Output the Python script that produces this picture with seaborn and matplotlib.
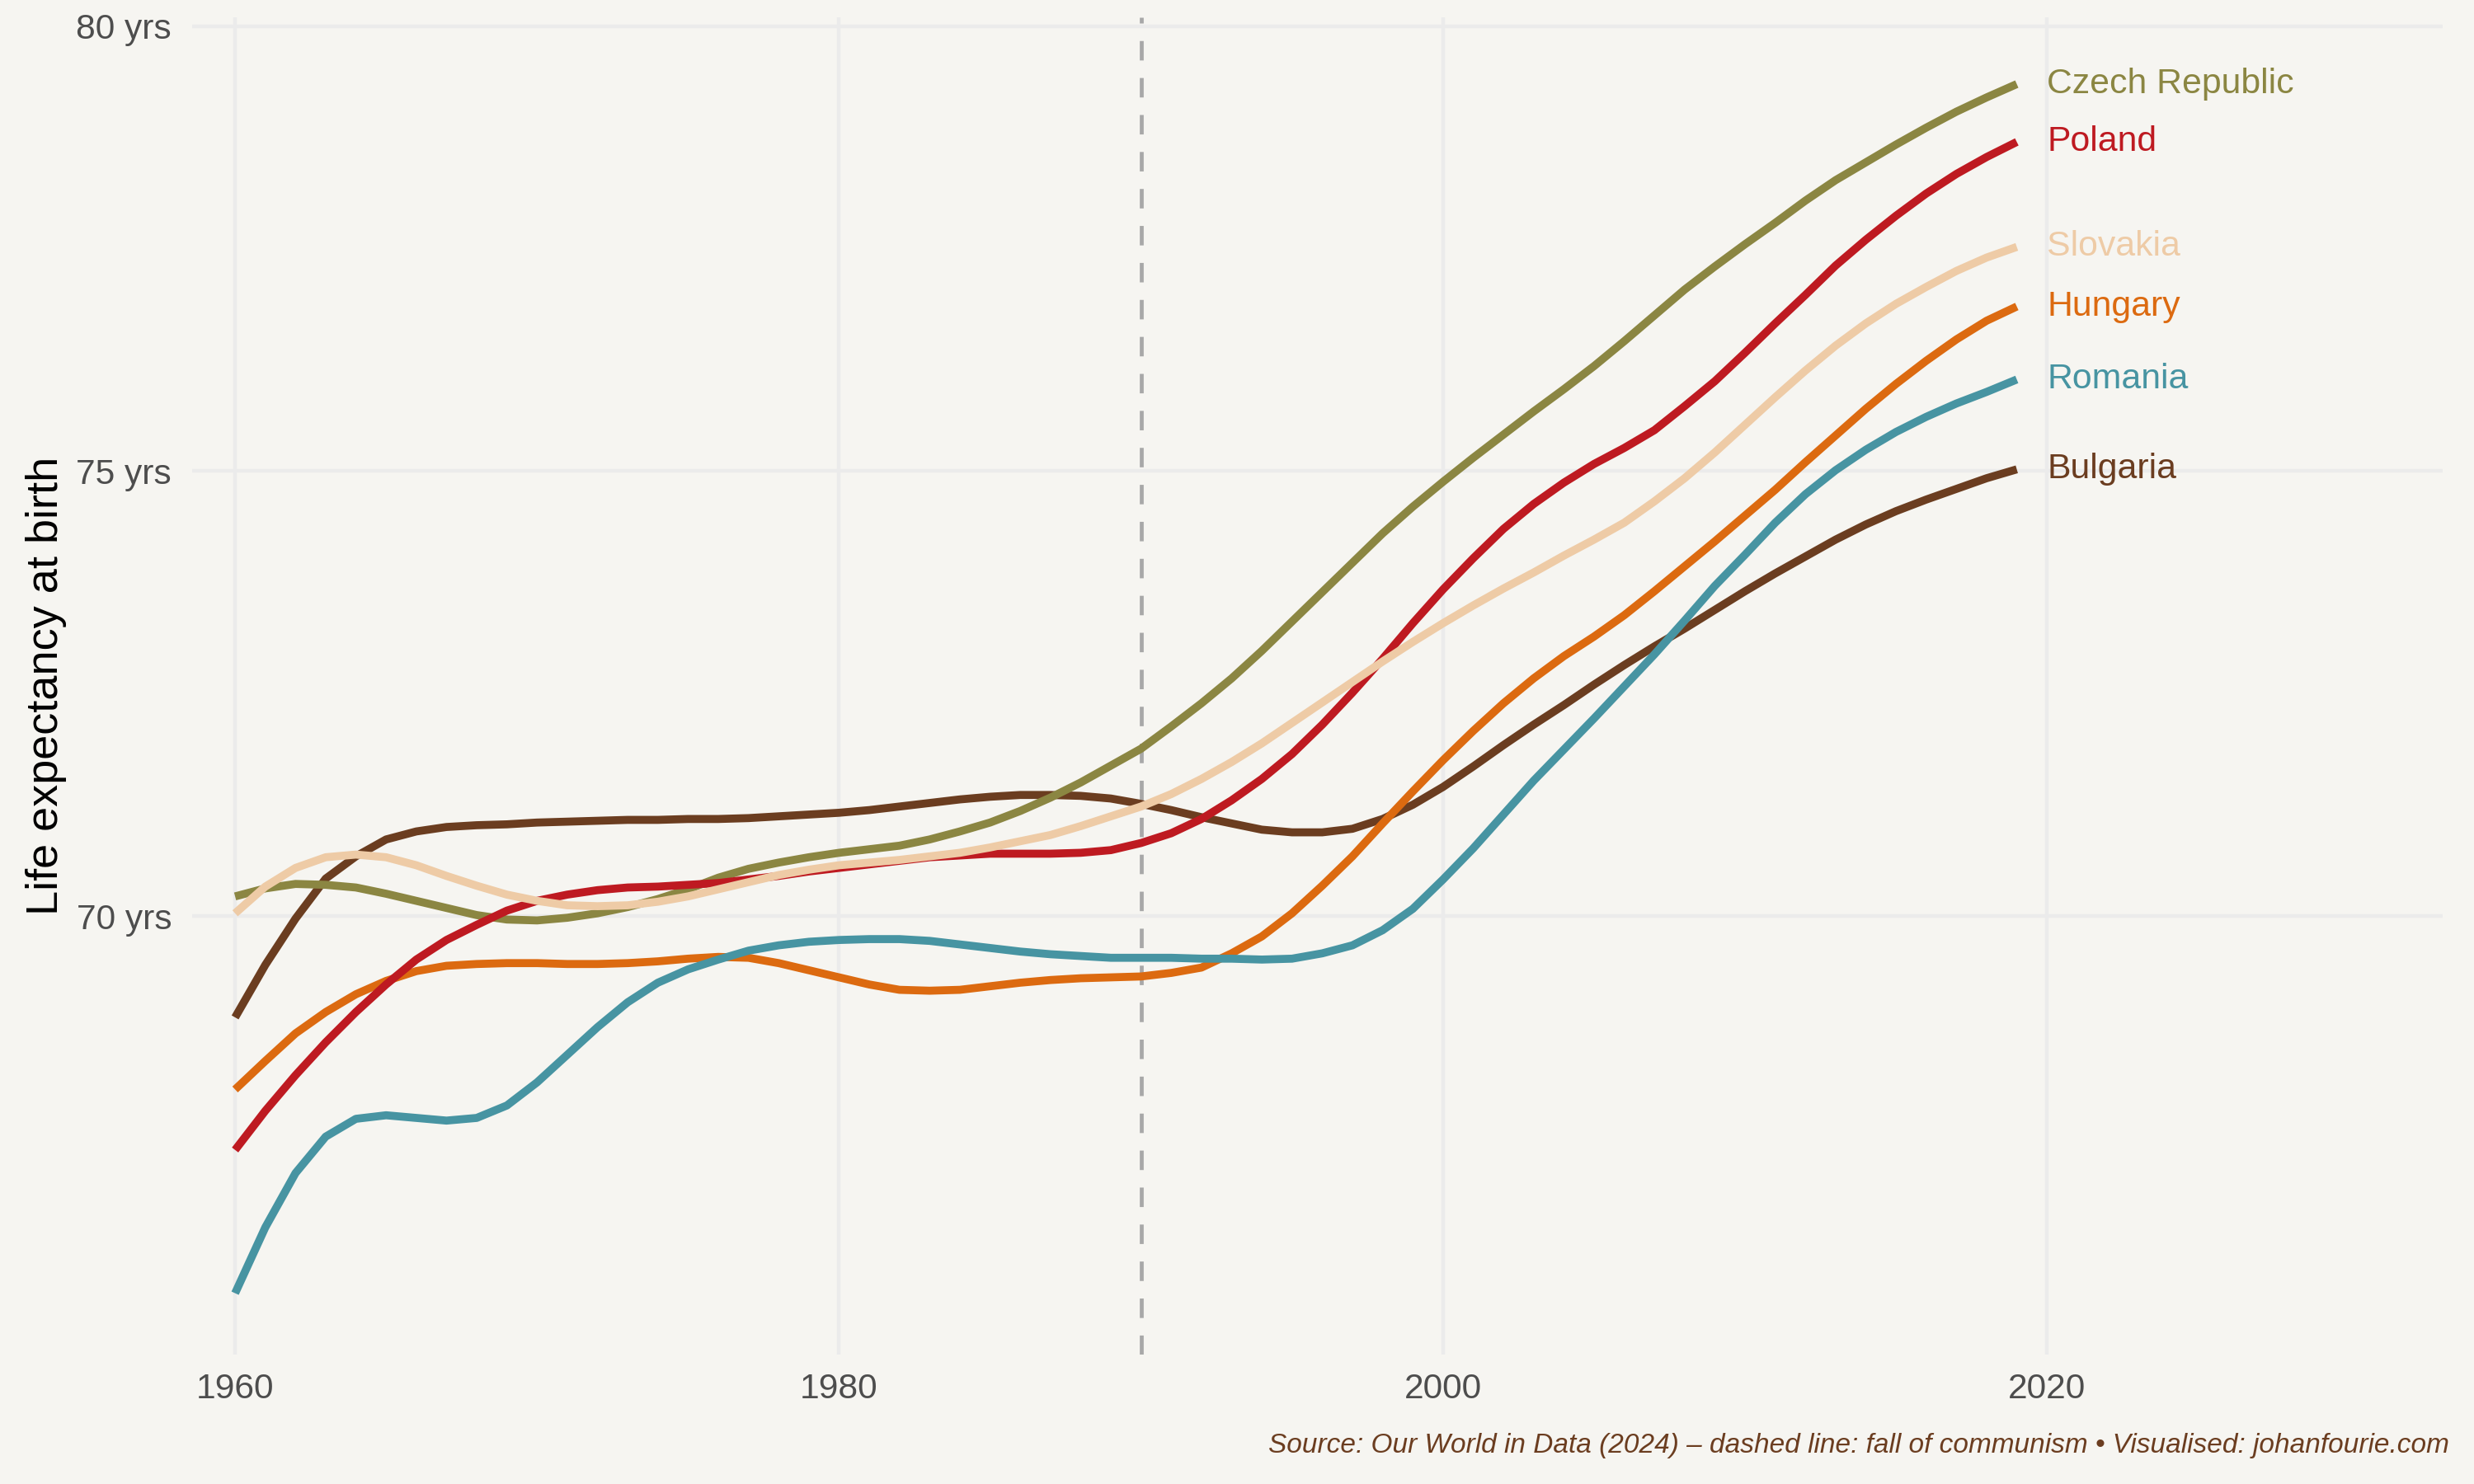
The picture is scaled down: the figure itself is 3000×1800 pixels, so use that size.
import pandas as pd
import matplotlib
matplotlib.use("Agg")
import matplotlib.pyplot as plt
import seaborn as sns

years = list(range(1960, 2020))

bulgaria = [68.86, 69.45, 69.97, 70.42, 70.67, 70.86, 70.95, 71.00, 71.02, 71.03,
            71.05, 71.06, 71.07, 71.08, 71.08, 71.09, 71.09, 71.10, 71.12, 71.14,
            71.16, 71.19, 71.23, 71.27, 71.31, 71.34, 71.36, 71.36, 71.35, 71.32,
            71.26, 71.19, 71.11, 71.04, 70.97, 70.94, 70.94, 70.98, 71.09, 71.25,
            71.45, 71.68, 71.92, 72.15, 72.37, 72.60, 72.82, 73.03, 73.23, 73.44,
            73.65, 73.85, 74.04, 74.23, 74.40, 74.55, 74.68, 74.80, 74.92, 75.02]
czech = [70.22, 70.31, 70.36, 70.35, 70.32, 70.25, 70.17, 70.09, 70.01, 69.96,
         69.95, 69.98, 70.03, 70.10, 70.19, 70.30, 70.43, 70.53, 70.60, 70.66,
         70.71, 70.75, 70.79, 70.86, 70.95, 71.05, 71.18, 71.33, 71.50, 71.69,
         71.88, 72.13, 72.39, 72.67, 72.98, 73.31, 73.64, 73.97, 74.30, 74.60,
         74.88, 75.15, 75.41, 75.67, 75.92, 76.18, 76.46, 76.75, 77.04, 77.30,
         77.55, 77.79, 78.04, 78.27, 78.47, 78.67, 78.86, 79.04, 79.20, 79.35]
hungary = [68.05, 68.37, 68.68, 68.92, 69.12, 69.27, 69.38, 69.44, 69.46, 69.47,
           69.47, 69.46, 69.46, 69.47, 69.49, 69.52, 69.54, 69.53, 69.47, 69.39,
           69.31, 69.23, 69.17, 69.16, 69.17, 69.21, 69.25, 69.28, 69.30, 69.31,
           69.32, 69.36, 69.42, 69.58, 69.77, 70.03, 70.34, 70.67, 71.04, 71.40,
           71.75, 72.08, 72.39, 72.67, 72.92, 73.14, 73.38, 73.65, 73.93, 74.21,
           74.50, 74.79, 75.10, 75.40, 75.70, 75.98, 76.24, 76.48, 76.69, 76.85]
poland = [67.37, 67.81, 68.21, 68.58, 68.92, 69.23, 69.51, 69.73, 69.90, 70.06,
          70.17, 70.24, 70.29, 70.32, 70.33, 70.35, 70.37, 70.41, 70.45, 70.50,
          70.54, 70.58, 70.62, 70.66, 70.68, 70.70, 70.70, 70.70, 70.71, 70.74,
          70.82, 70.93, 71.09, 71.30, 71.54, 71.82, 72.15, 72.51, 72.89, 73.29,
          73.67, 74.02, 74.35, 74.63, 74.87, 75.08, 75.26, 75.46, 75.73, 76.01,
          76.33, 76.66, 76.98, 77.31, 77.60, 77.87, 78.12, 78.34, 78.53, 78.70]
romania = [65.76, 66.50, 67.11, 67.52, 67.72, 67.76, 67.73, 67.70, 67.73, 67.87,
           68.13, 68.44, 68.75, 69.03, 69.25, 69.40, 69.51, 69.61, 69.67, 69.71,
           69.73, 69.74, 69.74, 69.72, 69.68, 69.64, 69.60, 69.57, 69.55, 69.53,
           69.53, 69.53, 69.52, 69.52, 69.51, 69.52, 69.58, 69.67, 69.84, 70.08,
           70.41, 70.76, 71.14, 71.52, 71.87, 72.22, 72.58, 72.94, 73.32, 73.71,
           74.06, 74.42, 74.74, 75.01, 75.24, 75.44, 75.61, 75.76, 75.89, 76.03]
slovakia = [70.03, 70.33, 70.54, 70.66, 70.69, 70.66, 70.57, 70.45, 70.34, 70.24,
            70.17, 70.12, 70.11, 70.12, 70.16, 70.22, 70.30, 70.38, 70.46, 70.52,
            70.57, 70.60, 70.63, 70.67, 70.71, 70.77, 70.84, 70.91, 71.01, 71.12,
            71.23, 71.37, 71.54, 71.73, 71.94, 72.17, 72.40, 72.63, 72.86, 73.08,
            73.29, 73.49, 73.68, 73.86, 74.05, 74.23, 74.42, 74.66, 74.92, 75.21,
            75.52, 75.83, 76.13, 76.41, 76.66, 76.88, 77.07, 77.25, 77.40, 77.52]

countries = ["Bulgaria", "Czech Republic", "Hungary", "Poland", "Romania", "Slovakia"]
colours = {"Bulgaria": "#6b3d20", "Czech Republic": "#8b8642", "Hungary": "#dc6a10",
           "Poland": "#be1a21", "Romania": "#4794a2", "Slovakia": "#eecba6"}
x_ticks = [1960, 1980, 2000, 2020]
y_ticks = [70, 75, 80]
y_tick_labels = ["70 yrs", "75 yrs", "80 yrs"]
fall_of_communism = 1990

series = {"Bulgaria": bulgaria, "Czech Republic": czech, "Hungary": hungary,
          "Poland": poland, "Romania": romania, "Slovakia": slovakia}
df = pd.concat([pd.DataFrame({"year": years, "life_exp": v, "country": k})
                for k, v in series.items()], ignore_index=True)

bg = "#f6f5f1"
sns.set_theme(style="white")
plt.rcParams["font.family"] = ["Liberation Sans", "DejaVu Sans"]
plt.rcParams["lines.solid_capstyle"] = "butt"

fig = plt.figure(figsize=(15, 9), dpi=200, facecolor=bg)
ax = fig.add_axes([0.0777, 0.0872, 0.9096, 0.9011], facecolor=bg)

ax.axvline(fall_of_communism, color="#a8a8a8", lw=1.7, ls=(0, (5, 4.5)), zorder=1)

sns.lineplot(data=df, x="year", y="life_exp", hue="country", hue_order=countries,
             palette=colours, linewidth=3.5, legend=False, ax=ax, zorder=3)

# labels at the line ends
for c in countries:
    last = df[df["country"] == c].iloc[-1]
    ax.text(2020, last["life_exp"], c, color=colours[c], fontsize=15.4,
            ha="left", va="center")

ax.set_xlim(1958.58, 2033.1)
ax.set_ylim(65.07, 80.1)
ax.set_xticks(x_ticks)
ax.set_yticks(y_ticks)
ax.set_yticklabels(y_tick_labels)
ax.tick_params(axis="both", length=0, labelsize=15.3, labelcolor="#4d4d4d")
ax.tick_params(axis="y", pad=9)
ax.tick_params(axis="x", pad=8)
ax.grid(True, color="#ebebeb", lw=1.6)
ax.set_axisbelow(True)
for s in ax.spines.values():
    s.set_visible(False)
ax.set_xlabel("")
ax.set_ylabel("")

fig.text(56 / 3000, 0.5378, "Life expectancy at birth", rotation=90,
         ha="center", va="center", fontsize=19.5, color="black")
fig.text(0.990, 1 - 1762 / 1800,
         "Source: Our World in Data (2024) \u2013 dashed line: fall of communism \u2022 Visualised: johanfourie.com",
         ha="right", va="baseline", fontsize=12, style="italic", color="#6b3d20")

plt.savefig("out.png", dpi=200, facecolor=bg)
